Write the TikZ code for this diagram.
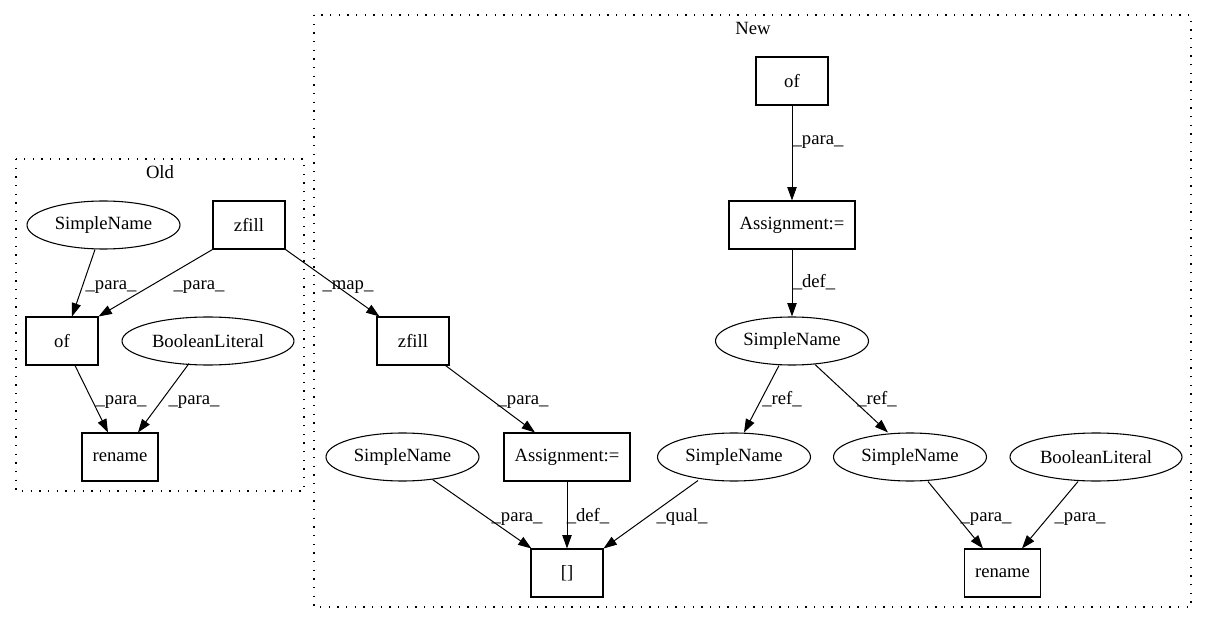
\documentclass[tikz,border=0pt]{standalone}
\usepackage{fontspec}
\setmainfont{Liberation Serif}
\usetikzlibrary{arrows.meta,shapes.geometric,calc}
\begin{document}
\begin{tikzpicture}[x=0.75pt,y=-0.75pt,
  every node/.style={font=\fontsize{14}{17}\selectfont},
  boxn/.style={draw,rectangle,line width=0.8pt,minimum width=54pt,minimum height=36pt,inner sep=0pt},
  elln/.style={draw,ellipse,line width=0.8pt,minimum height=36pt,inner sep=0pt},
  sn/.style={elln,minimum width=114.75pt},
  bl/.style={elln,minimum width=129pt},
  asg/.style={boxn,minimum width=94.5pt},
  ren/.style={boxn,minimum width=57pt},
  conn/.style={draw,line width=0.75pt,-{Triangle[length=10pt,width=7pt]}},
  lbl/.style={inner sep=0pt,text height=10pt,text depth=3.5pt},
  cluster/.style={draw,line width=1.1pt,dash pattern=on 1.1pt off 5.4pt}
]
\useasboundingbox (0,0) rectangle (1208,624);
\fill[white] (0,0) rectangle (1208,624);

% clusters
\draw[cluster] (16,159) rectangle (304,491);
\node[lbl] (oldlbl) at (160,174) {Old};
\draw[cluster] (314,15) rectangle (1191,607);
\node[lbl] (newlbl) at (753,30) {New};

% Old nodes
\node[sn] (SNo) at (103.5,225) {SimpleName};
\node[boxn] (zfo) at (249,225) {zfill};
\node[boxn] (ofo) at (62,341) {of};
\node[bl] (Boo) at (208,341) {BooleanLiteral};
\node[ren] (reno) at (120,457) {rename};

% New nodes
\node[boxn] (ofn) at (792,81) {of};
\node[asg] (asg1) at (792,225) {Assignment:=};
\node[sn] (snm) at (792,341) {SimpleName};
\node[boxn] (zfn) at (413,341) {zfill};
\node[asg] (asg2) at (567,457) {Assignment:=};
\node[sn] (snl) at (402.5,457) {SimpleName};
\node[sn] (snq) at (734,457) {SimpleName};
\node[sn] (snr) at (910,457) {SimpleName};
\node[bl] (bon) at (1096,457) {BooleanLiteral};
\node[boxn] (br) at (567,573) {[]};
\node[ren] (renn) at (1002.5,573) {rename};

% Old edges
\draw[conn] ($(SNo.south)+(-8.5,0)$) -- ($(ofo.north)+(10,0)$) node[lbl] at (111,285) {\_para\_};
\draw[conn] (zfo.south west) -- (ofo.north east) node[lbl] at (199,285) {\_para\_};
\draw[conn] (zfo.south east) -- ($(zfn.north west)+(3,0)$) node[lbl] at (348,285) {\_map\_};
\draw[conn] ($(ofo.south)+(13,0)$) -- ($(reno.north)+(-12,0)$) node[lbl] at (121,400) {\_para\_};
\draw[conn] ($(Boo.south)+(-19,-2)$) -- ($(reno.north)+(18,0)$) node[lbl] at (194,400) {\_para\_};

% New edges
\draw[conn] (ofn.south) -- (asg1.north) node[lbl] at (818,140) {\_para\_};
\draw[conn] (asg1.south) -- (snm.north) node[lbl] at (814,283) {\_def\_};
\draw[conn] ($(snm.south)+(-13,0)$) -- ($(snq.north)+(10,0)$) node[lbl] at (782,400) {\_ref\_};
\draw[conn] ($(snm.south)+(23,-1)$) -- ($(snr.north)+(-22,0)$) node[lbl] at (877,400) {\_ref\_};
\draw[conn] ($(zfn.south east)+(-4,0)$) -- ($(asg2.north)+(-32,0)$) node[lbl] at (523,400) {\_para\_};
\draw[conn] ($(snl.south)+(30,-2)$) -- ($(br.north west)+(1,0)$) node[lbl] at (517,517) {\_para\_};
\draw[conn] (asg2.south) -- (br.north) node[lbl] at (588,517) {\_def\_};
\draw[conn] ($(snq.south)+(-36,-1)$) -- (br.north east) node[lbl] at (682,517) {\_qual\_};
\draw[conn] ($(snr.south)+(18,0)$) -- ($(renn.north)+(-19.5,0)$) node[lbl] at (986,517) {\_para\_};
\draw[conn] ($(bon.south)+(-18,0)$) -- ($(renn.north)+(19.5,0)$) node[lbl] at (1080,517) {\_para\_};
\end{tikzpicture}
\end{document}
